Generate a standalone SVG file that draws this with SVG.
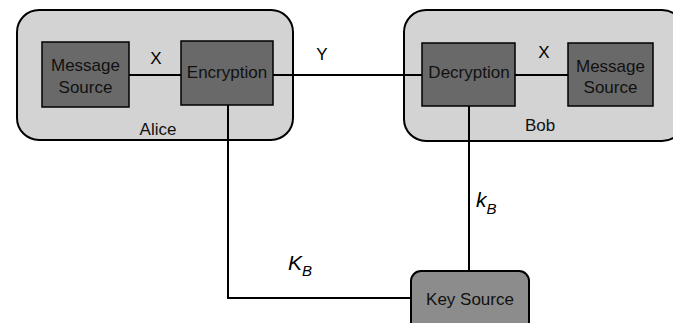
<svg xmlns="http://www.w3.org/2000/svg" width="673" height="323" viewBox="0 0 673 323">
<style>
.cont{fill:#d3d3d3;stroke:#000;stroke-width:2}
.box{fill:#696969;stroke:#000;stroke-width:1.5}
.key{fill:#8c8c8c;stroke:#000;stroke-width:2}
.t{font-family:"Liberation Sans",Arial,sans-serif;font-size:17px;fill:#111;text-anchor:middle}
.lbl{font-family:"Liberation Sans",Arial,sans-serif;font-size:17px;fill:#000;text-anchor:middle}
.it{font-family:"Liberation Sans",Arial,sans-serif;font-style:italic;fill:#000}
.ln{stroke:#000;stroke-width:2;fill:none}
</style>
<g id="alice">
<rect class="cont" x="17" y="10" width="276" height="130" rx="22" ry="22"/>
<text class="t" x="158" y="135">Alice</text>
</g>
<g id="bob">
<rect class="cont" x="404" y="10" width="280" height="131" rx="22" ry="22"/>
<text class="t" x="540" y="131">Bob</text>
</g>
<g id="connectors">
<line class="ln" x1="129" y1="75" x2="181" y2="75"/>
<line class="ln" x1="273" y1="75" x2="422" y2="75"/>
<line class="ln" x1="515" y1="75" x2="568" y2="75"/>
<polyline class="ln" points="228,105 228,298 411,298"/>
<line class="ln" x1="469" y1="106" x2="469" y2="271"/>
<text class="lbl" x="156" y="64">X</text>
<text class="lbl" x="322" y="60">Y</text>
<text class="lbl" x="544" y="58">X</text>
<text class="it" x="476" y="207" font-size="21">k<tspan font-size="15" dy="7">B</tspan></text>
<text class="it" x="288" y="270" font-size="21">K<tspan font-size="15" dy="6">B</tspan></text>
</g>
<g id="alice-source">
<rect class="box" x="42" y="42" width="87" height="65"/>
<text class="t" x="85.5" y="71">Message</text>
<text class="t" x="85.5" y="93">Source</text>
</g>
<g id="encryption">
<rect class="box" x="181" y="41" width="92" height="64"/>
<text class="t" x="227" y="78">Encryption</text>
</g>
<g id="decryption">
<rect class="box" x="422" y="43" width="93" height="63"/>
<text class="t" x="469" y="78">Decryption</text>
</g>
<g id="bob-source">
<rect class="box" x="568" y="43" width="85" height="63"/>
<text class="t" x="610.5" y="72">Message</text>
<text class="t" x="610.5" y="93">Source</text>
</g>
<g id="key-source">
<rect class="key" x="411" y="271" width="118" height="62" rx="10" ry="10"/>
<text class="t" x="470" y="305">Key Source</text>
</g>
</svg>
